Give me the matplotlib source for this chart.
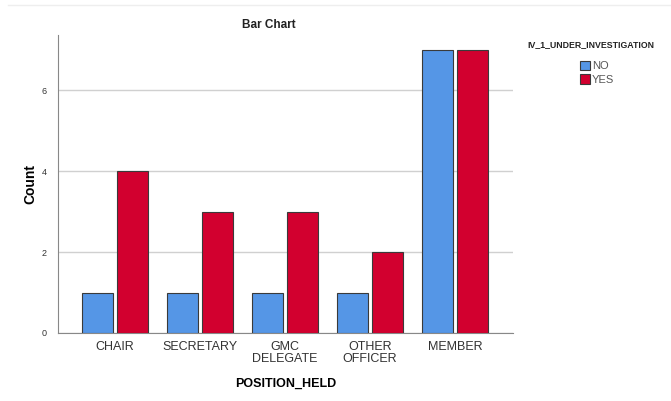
import numpy as np
import matplotlib.pyplot as plt
from matplotlib.patches import Patch

plt.rcParams['font.family'] = ['Liberation Sans', 'DejaVu Sans']

positions = ["CHAIR", "SECRETARY", "GMC\nDELEGATE", "OTHER\nOFFICER", "MEMBER"]
count_no = [1, 1, 1, 1, 7]
count_yes = [4, 3, 3, 2, 7]
legend_labels = ["NO", "YES"]

blue = "#5596e6"
red = "#d2002f"
edge = "#3a3a3a"

fig = plt.figure(figsize=(6.71, 4.01), dpi=100)
ax = fig.add_axes([58 / 671, 1 - 333 / 401, 455 / 671, 298 / 401])

x = np.arange(len(positions))
w = 0.37
ax.bar(x - 0.205, count_no, w, color=blue, edgecolor=edge, linewidth=0.8, zorder=3)
ax.bar(x + 0.205, count_yes, w, color=red, edgecolor=edge, linewidth=0.8, zorder=3)

ax.set_xlim(-0.67, 4.68)
ax.set_ylim(0, 7.37)
ax.set_yticks([0, 2, 4, 6])
ax.set_xticks(x)
ax.set_xticklabels(positions, fontsize=9, color="#333333", linespacing=0.95)
ax.tick_params(axis="y", length=0, labelsize=6.5, colors="#333333", pad=8)
ax.tick_params(axis="x", length=0, pad=6)
ax.grid(axis="y", color="#d0d0d0", linewidth=1, zorder=0)

for s in ["top", "right"]:
    ax.spines[s].set_visible(False)
ax.spines["left"].set_color("#888888")
ax.spines["bottom"].set_color("#888888")

ax.set_ylabel("Count", fontsize=10, fontweight="bold", labelpad=3)
ax.set_xlabel("POSITION_HELD", fontsize=9, fontweight="bold", labelpad=9)

fig.text(269 / 671, 1 - 25 / 401, "Bar Chart", ha="center", va="center",
         fontsize=8.5, fontweight="bold", color="#222222")

# thin line at the very top of the image
fig.add_artist(plt.Line2D([8 / 671, 1], [1 - 5 / 401, 1 - 5 / 401], color="#eeeeee", lw=1))

fig.text(591 / 671, 1 - 45 / 401, "IV_1_UNDER_INVESTIGATION", ha="center", va="center",
         fontsize=6.3, fontweight="bold", color="#222222")

handles = [Patch(facecolor=blue, edgecolor=edge, linewidth=0.8),
           Patch(facecolor=red, edgecolor=edge, linewidth=0.8)]
leg = fig.legend(handles, legend_labels,
                 loc="upper left", bbox_to_anchor=(574 / 671, 1 - 55 / 401),
                 frameon=False, fontsize=8,
                 handlelength=0.9, handleheight=0.9, handletextpad=0.2,
                 labelspacing=0.3, borderpad=0)
for t in leg.get_texts():
    t.set_color("#555555")

fig.savefig("out.png", dpi=100)
